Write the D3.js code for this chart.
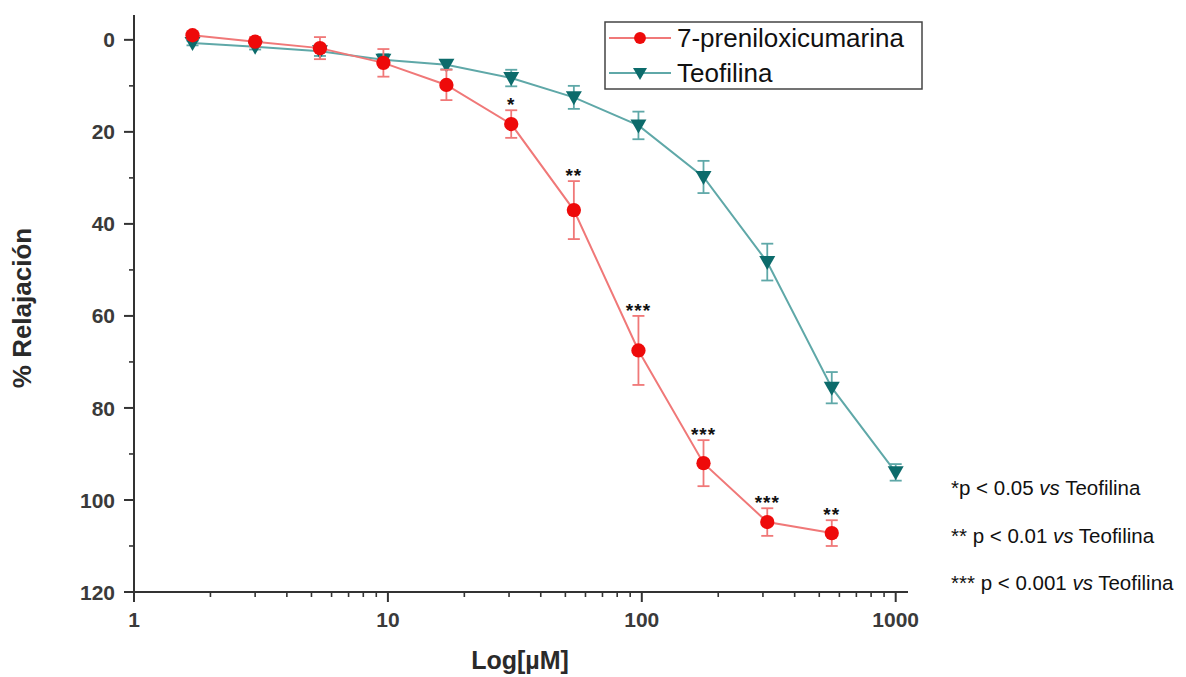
<!DOCTYPE html>
<html>
<head>
<meta charset="utf-8">
<script src="https://cdn.jsdelivr.net/npm/d3@7"></script>
<style>
  body { margin: 0; background: #fff; }
  svg { display: block; font-family: Arial, "Liberation Sans", sans-serif; }
</style>
</head>
<body>
<svg id="chart" width="1186" height="677"></svg>
<script>
// Concentrations (µM)
const concCumarina = [1.7, 3.0, 5.4, 9.6, 17, 30.6, 54, 97, 175, 312, 560];
const concTeofilina = [1.7, 3.0, 5.4, 9.6, 17, 30.6, 54, 97, 175, 312, 560, 1000];

// % relaxation and error (SEM)
const relCumarina = [-1.0, 0.4, 1.8, 5.0, 9.8, 18.3, 37.0, 67.5, 92.0, 104.8, 107.2];
const errCumarina = [0.8, 1.0, 2.4, 3.0, 3.3, 3.0, 6.3, 7.5, 5.0, 3.0, 2.8];
const relTeofilina = [0.7, 1.5, 2.5, 4.3, 5.4, 8.3, 12.5, 18.6, 29.8, 48.3, 75.6, 94.0];
const errTeofilina = [0.5, 0.6, 1.0, 1.2, 1.0, 1.8, 2.5, 3.0, 3.5, 4.0, 3.4, 1.8];

// Significance marks for the 7-preniloxicumarina points
const signif = ["", "", "", "", "", "*", "**", "***", "***", "***", "**"];

const xTicks = [1, 10, 100, 1000];
const yTicks = [0, 20, 40, 60, 80, 100, 120];
const footnotes = [
  ["*p < 0.05 ", "vs", " Teofilina"],
  ["** p < 0.01 ", "vs", " Teofilina"],
  ["*** p < 0.001 ", "vs", " Teofilina"]
];

const svg = d3.select("#chart");
const axisColor = "#333";
const redLine = "#f07878", redMark = "#ee0a0a";
const tealLine = "#5fa8a8", tealMark = "#0c6b6b";

const x = d3.scaleLog().domain([1, 1118]).range([134, 908]);
const y = d3.scaleLinear().domain([-5.4, 120]).range([15, 592]);

// Axes
const gx = svg.append("g").attr("transform", `translate(0,${y(120)})`);
gx.append("line").attr("x1", x(1) - 1).attr("x2", x(1118)).attr("y1", 0).attr("y2", 0)
  .attr("stroke", axisColor).attr("stroke-width", 2);
const minorX = [];
for (let d = 1; d < 1000; d *= 10) for (let k = 2; k <= 9; k++) minorX.push(d * k);
gx.selectAll(".mx").data(minorX).join("line")
  .attr("x1", d => x(d)).attr("x2", d => x(d)).attr("y1", 0).attr("y2", 5)
  .attr("stroke", axisColor).attr("stroke-width", 1.6);
gx.selectAll(".Mx").data(xTicks).join("line")
  .attr("x1", d => x(d)).attr("x2", d => x(d)).attr("y1", 0).attr("y2", 10)
  .attr("stroke", axisColor).attr("stroke-width", 2);
gx.selectAll(".lx").data(xTicks).join("text")
  .attr("x", d => x(d)).attr("y", 35).attr("text-anchor", "middle")
  .attr("font-size", 21).attr("font-weight", "bold").attr("fill", "#3a3a3a")
  .text(d => d);

const gy = svg.append("g").attr("transform", `translate(${x(1)},0)`);
gy.append("line").attr("x1", 0).attr("x2", 0).attr("y1", y(-5.4)).attr("y2", y(120) + 10)
  .attr("stroke", axisColor).attr("stroke-width", 2);
const minorY = d3.range(10, 120, 20);
gy.selectAll(".my").data(minorY).join("line")
  .attr("x1", -5).attr("x2", 0).attr("y1", d => y(d)).attr("y2", d => y(d))
  .attr("stroke", axisColor).attr("stroke-width", 1.6);
gy.selectAll(".My").data(yTicks).join("line")
  .attr("x1", -10).attr("x2", 0).attr("y1", d => y(d)).attr("y2", d => y(d))
  .attr("stroke", axisColor).attr("stroke-width", 2);
gy.selectAll(".ly").data(yTicks).join("text")
  .attr("x", -19).attr("y", d => y(d)).attr("dy", "0.36em").attr("text-anchor", "end")
  .attr("font-size", 21).attr("font-weight", "bold").attr("fill", "#3a3a3a")
  .text(d => d);

// Axis titles
svg.append("text").attr("x", 520).attr("y", 669).attr("text-anchor", "middle")
  .attr("font-size", 25).attr("font-weight", "bold").attr("fill", "#2a2a2a").text("Log[µM]");
svg.append("text").attr("transform", "translate(31,308) rotate(-90)").attr("text-anchor", "middle")
  .attr("font-size", 26).attr("font-weight", "bold").attr("fill", "#2a2a2a").text("% Relajación");

// Series
function drawSeries(conc, vals, errs, lineColor, markColor, shape) {
  const pts = conc.map((c, i) => ({ c, v: vals[i], e: errs[i] }));
  const g = svg.append("g");
  g.append("path").datum(pts)
    .attr("d", d3.line().x(d => x(d.c)).y(d => y(d.v)))
    .attr("fill", "none").attr("stroke", lineColor).attr("stroke-width", 2);
  const eb = g.selectAll(".eb").data(pts).join("g");
  eb.append("line").attr("x1", d => x(d.c)).attr("x2", d => x(d.c))
    .attr("y1", d => y(d.v - d.e)).attr("y2", d => y(d.v + d.e))
    .attr("stroke", lineColor).attr("stroke-width", 1.8);
  [-1, 1].forEach(s => {
    eb.append("line").attr("x1", d => x(d.c) - 6).attr("x2", d => x(d.c) + 6)
      .attr("y1", d => y(d.v + s * d.e)).attr("y2", d => y(d.v + s * d.e))
      .attr("stroke", lineColor).attr("stroke-width", 1.8);
  });
  g.selectAll(".mk").data(pts).join("path")
    .attr("transform", d => `translate(${x(d.c)},${y(d.v)})`)
    .attr("d", shape).attr("fill", markColor);
}
const circle = d3.symbol(d3.symbolCircle, 160)();
const triDown = "M-8,-6L8,-6L0,8Z";
const circleSmall = d3.symbol(d3.symbolCircle, 110)();
const triDownSmall = "M-7,-5L7,-5L0,7Z";

drawSeries(concTeofilina, relTeofilina, errTeofilina, tealLine, tealMark, triDown);
drawSeries(concCumarina, relCumarina, errCumarina, redLine, redMark, circle);

// Significance stars
svg.selectAll(".sig").data(concCumarina.map((c, i) => ({ c, v: relCumarina[i], e: errCumarina[i], s: signif[i] })))
  .join("text")
  .attr("x", d => x(d.c)).attr("y", d => y(d.v - d.e) + 1)
  .attr("text-anchor", "middle").attr("font-size", 19).attr("font-weight", "bold").attr("fill", "#111")
  .attr("letter-spacing", 1)
  .text(d => d.s);

// Legend
const lg = svg.append("g");
lg.append("rect").attr("x", 605).attr("y", 22).attr("width", 317).attr("height", 67)
  .attr("fill", "#fff").attr("stroke", "#444").attr("stroke-width", 1.5);
const legendItems = [
  { name: "7-preniloxicumarina", line: redLine, mark: redMark, shape: circleSmall, yy: 38 },
  { name: "Teofilina", line: tealLine, mark: tealMark, shape: triDownSmall, yy: 73 }
];
legendItems.forEach(it => {
  lg.append("line").attr("x1", 609).attr("x2", 671).attr("y1", it.yy).attr("y2", it.yy)
    .attr("stroke", it.line).attr("stroke-width", 2);
  lg.append("path").attr("transform", `translate(640,${it.yy})`).attr("d", it.shape).attr("fill", it.mark);
  lg.append("text").attr("x", 677).attr("y", it.yy).attr("dy", "0.36em")
    .attr("font-size", 26).attr("fill", "#111").text(it.name);
});

// Footnotes
const fn = svg.append("g");
footnotes.forEach((f, i) => {
  const t = fn.append("text").attr("x", 951).attr("y", 495 + i * 47.5)
    .attr("font-size", 20.5).attr("fill", "#111");
  t.append("tspan").text(f[0]);
  t.append("tspan").attr("font-style", "italic").text(f[1]);
  t.append("tspan").text(f[2]);
});
</script>
</body>
</html>
